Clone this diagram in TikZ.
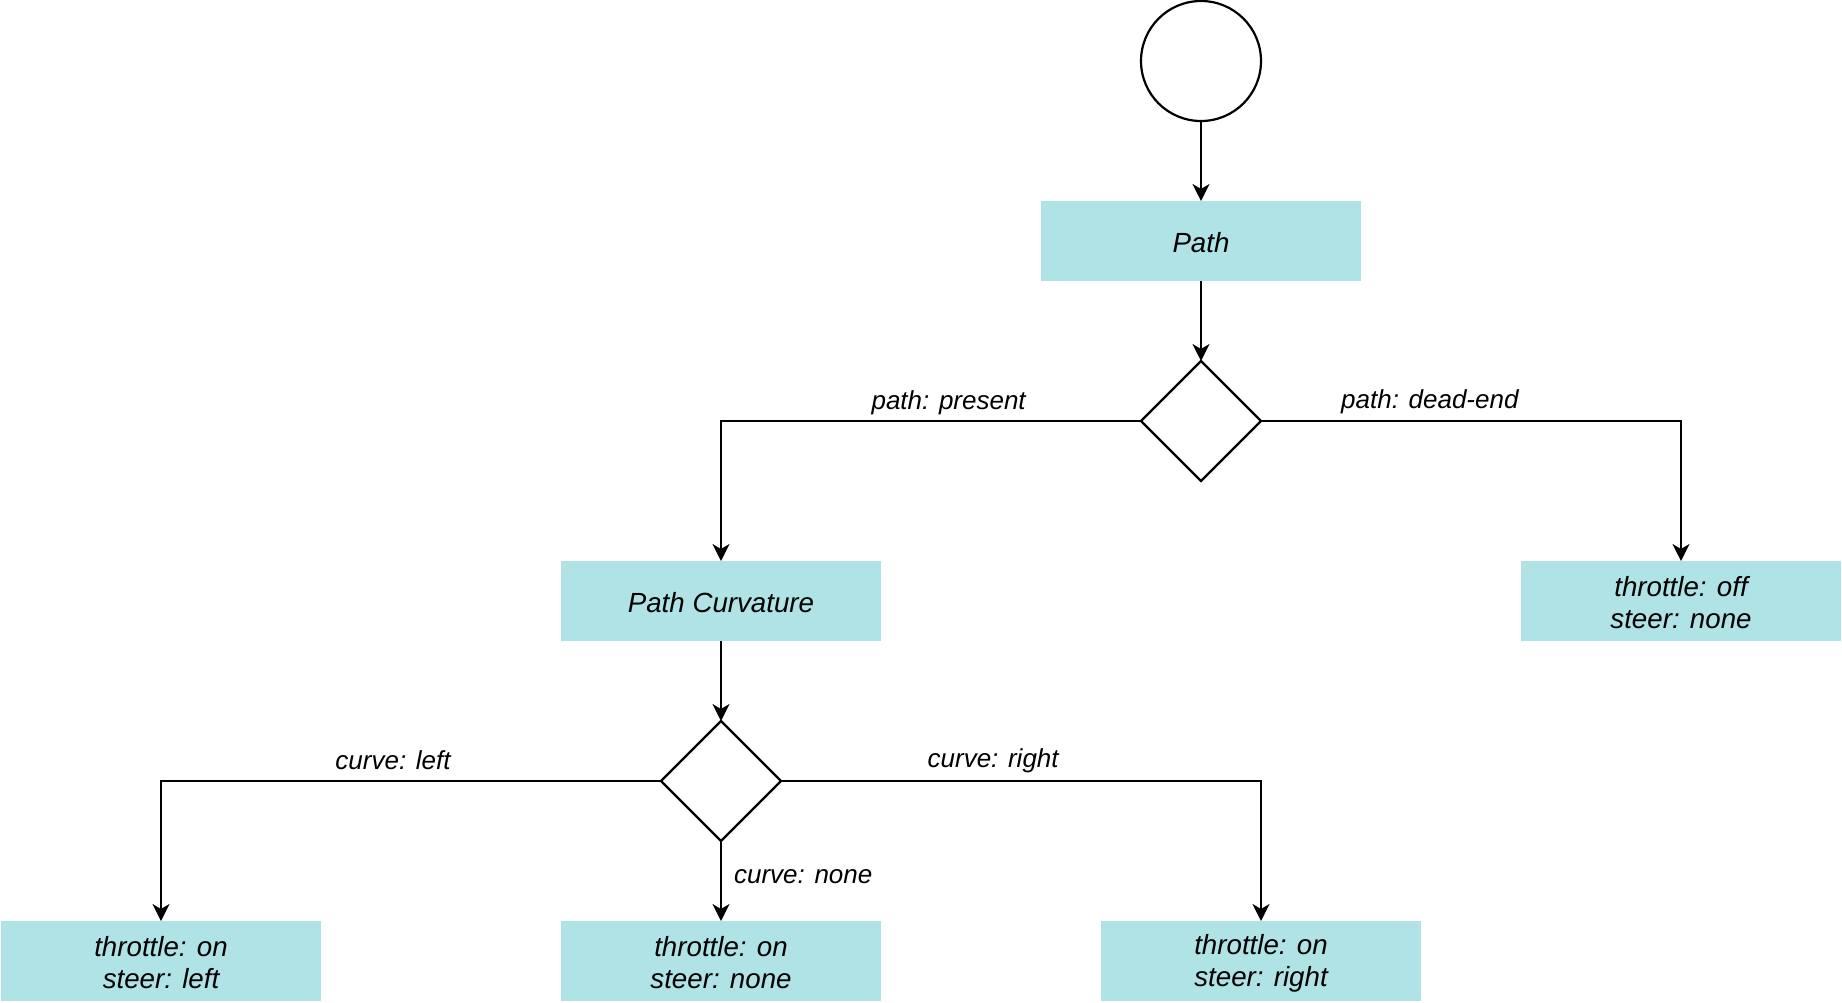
\documentclass[tikz,border=0pt]{standalone}
\usepackage{fontspec}
\setmainfont{Liberation Sans}
\usetikzlibrary{shapes.geometric,arrows.meta}
\definecolor{boxfill}{HTML}{B0E3E6}
\tikzset{
  conn/.style={line width=2.2pt,-{Stealth[length=17pt,width=17pt,inset=5pt]}},
  boxtext/.style={align=center,inner sep=0pt,font=\fontsize{27.7}{32}\selectfont\itshape,yshift=-2pt},
  actbox/.style={rectangle,fill=boxfill,minimum width=320pt,minimum height=80pt,inner sep=0pt,outer sep=0pt,label={[boxtext]center:#1}},
  decision/.style={diamond,draw,line width=2.2pt,minimum width=120pt,minimum height=120pt,inner sep=0pt,outer sep=0pt,aspect=1},
  startnode/.style={circle,draw,line width=2.2pt,minimum size=120pt,inner sep=0pt,outer sep=0pt},
  lbl/.style={font=\fontsize{26}{30}\selectfont\itshape,inner sep=0pt}
}
\begin{document}
\begin{tikzpicture}[x=1pt,y=-1pt]
\useasboundingbox (0,0) rectangle (1842,1002);
\node[startnode] (start) at (1201,61) {};
\node[actbox={Path}] (path) at (1201,241) {};
\node[decision] (d1) at (1201,421) {};
\node[actbox={Path Curvature}] (pc) at (721,601) {};
\node[actbox={throttle: off\\steer: none}] (off) at (1681,601) {};
\node[decision] (d2) at (721,781) {};
\node[actbox={throttle: on\\steer: left}] (bl) at (161,961) {};
\node[actbox={throttle: on\\steer: none}] (bn) at (721,961) {};
\node[actbox={throttle: on\\steer: right}] (br) at (1261,961) {};

\draw[conn] (start) -- (path);
\draw[conn] (path) -- (d1);
\draw[conn] (d1.west) -| node[lbl,anchor=base,pos=0.229,yshift=12pt] {path: present} (pc.north);
\draw[conn] (d1.east) -| node[lbl,anchor=base,pos=0.201,yshift=13pt] {path: dead-end} (off.north);
\draw[conn] (pc) -- (d2);
\draw[conn] (d2.west) -| node[lbl,anchor=base,pos=0.268,yshift=12pt] {curve: left} (bl.north);
\draw[conn] (d2.east) -| node[lbl,anchor=base,pos=0.221,yshift=14pt] {curve: right} (br.north);
\draw[conn] (d2.south) -- node[lbl,anchor=base west,pos=0.53,xshift=12pt] {curve: none} (bn.north);
\end{tikzpicture}
\end{document}
